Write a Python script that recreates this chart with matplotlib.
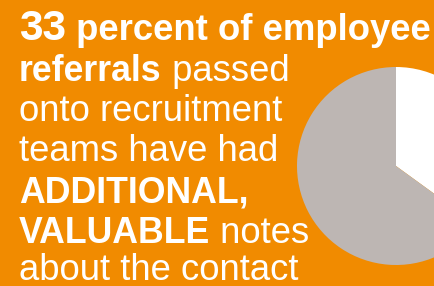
import matplotlib.pyplot as plt

# data
share_labels = ['with additional notes', 'without']
share_values = [35, 65]
share_colors = ['#FFFFFF', '#BDB6B3']

# text lines: list of (piece, style) pairs; style: 'big', 'head', 'bold', 'reg'
lines = [
    [('33', 'big'), (' percent of employee', 'head')],
    [('referrals', 'bold'), (' passed', 'reg')],
    [('onto recruitment', 'reg')],
    [('teams have had', 'reg')],
    [('ADDITIONAL,', 'bold')],
    [('VALUABLE', 'bold'), (' notes', 'reg')],
    [('about the contact', 'reg')],
]
baselines_px = [40, 81, 121, 161, 203, 243, 280]

W, H = 435, 286
bg = '#F18B00'
styles = {'big': (30.5, 'bold'), 'head': (26.3, 'bold'),
          'bold': (25.7, 'bold'), 'reg': (26.3, 'normal')}

plt.rcParams['font.family'] = ['Liberation Sans', 'DejaVu Sans']

fig = plt.figure(figsize=(W / 100, H / 100), dpi=100, facecolor=bg)

# pie, partly outside the right edge
cx, cy, r = 396, 166, 99
ax = fig.add_axes([(cx - r) / W, (H - cy - r) / H, 2 * r / W, 2 * r / H])
ax.pie(share_values, colors=share_colors, startangle=90, counterclock=False,
       wedgeprops={'linewidth': 0})
ax.set_aspect('equal')
ax.set_xlim(-1, 1)
ax.set_ylim(-1, 1)
ax.axis('off')

renderer = fig.canvas.get_renderer()
for pieces, base in zip(lines, baselines_px):
    x = 19
    for txt, st in pieces:
        size, weight = styles[st]
        t = fig.text(x / W, 1 - base / H, txt, color='white', fontsize=size,
                     fontweight=weight, ha='left', va='baseline', zorder=5)
        x = t.get_window_extent(renderer).x1

fig.savefig('out.png', dpi=100, facecolor=bg)
